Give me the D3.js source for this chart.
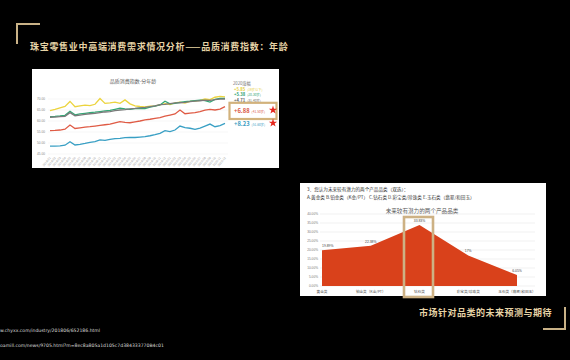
<!DOCTYPE html>
<html><head><meta charset="utf-8">
<script src="https://cdn.jsdelivr.net/npm/d3@7"></script>
<style>html,body{margin:0;padding:0;background:#000;} svg{display:block}</style>
</head><body>
<svg id="c" width="570" height="360"></svg>
<script>
// ---------- data ----------
const months = [];
for (const yr of [2018, 2019, 2020]) for (let m = 1; m <= 12; m++) months.push(yr + "-" + String(m).padStart(2, "0"));
const ageGroups = ["19岁以下", "20-30岁", "31-40岁", "41-50岁", "51-60岁"];
const growth2020 = ["+5.85", "+5.38", "+4.71", "+6.88", "+8.23"];
const yellowVals = [64.7,65.3,66.0,66.6,68.9,66.5,66.9,67.2,67.0,67.6,70.2,68.0,68.2,68.6,68.0,69.6,67.8,66.9,66.6,66.4,66.7,66.9,67.3,67.9,67.5,68.2,68.6,68.2,68.9,69.1,69.4,70.0,69.7,70.8,71.2,71.0];
const greenVals = [62.0,62.1,62.3,62.6,64.4,62.8,63.2,63.5,63.8,64.0,64.3,64.6,64.8,65.3,65.8,65.5,65.3,65.6,65.8,65.6,66.3,66.8,67.3,69.0,67.8,68.0,68.5,68.8,69.0,69.3,69.5,69.3,68.6,69.8,70.3,70.3];
const grayVals = [61.7,61.8,62.0,62.1,63.8,62.4,62.7,63.0,63.3,63.5,63.8,64.1,64.3,64.7,65.0,65.2,65.5,65.7,66.0,66.2,66.5,66.9,67.4,67.6,67.9,68.2,68.3,68.5,68.8,69.0,69.2,69.5,69.4,69.7,69.9,70.0];
const redVals = [55.6,55.7,55.9,56.3,58.2,56.6,56.9,57.2,57.4,57.7,58.0,58.3,58.6,59.2,59.7,59.4,59.2,59.6,60.0,60.5,60.8,61.2,61.5,62.2,62.7,63.2,65.0,63.3,63.6,63.8,64.3,64.9,65.3,65.0,65.4,66.5];
const blueVals = [48.6,48.6,48.7,49.0,50.6,49.1,49.4,49.8,50.3,50.6,51.4,51.2,51.6,52.0,52.1,52.4,52.6,52.5,52.7,52.9,53.3,53.8,54.4,55.6,55.2,55.9,57.7,57.0,56.7,56.2,56.8,57.7,58.6,57.4,57.9,58.9];
const yTicksLeft = [45, 50, 55, 60, 65, 70];

const categories = ["黄金类", "铂金类（K金/PT）", "钻石类", "彩宝类/珍珠类", "玉石类（翡翠/和田玉）"];
const shares = [0.1989, 0.2238, 0.3383, 0.17, 0.0605];
const shareLabels = ["19.89%", "22.38%", "33.83%", "17%", "6.05%"];
const yTicksRight = [0, 0.05, 0.10, 0.15, 0.20, 0.25, 0.30, 0.35, 0.40];

// ---------- drawing ----------
const svg = d3.select("#c");
const gold = "#c9b287", cream = "#e6d3a6";
const cjk = "'Noto Sans CJK SC','Noto Sans',sans-serif";
svg.append("rect").attr("width", 570).attr("height", 360).attr("fill", "#000");

// corner brackets
svg.append("path").attr("d", "M17,44 V24 H40").attr("fill", "none").attr("stroke", gold).attr("stroke-width", 2);
svg.append("path").attr("d", "M565,307 V329 H543").attr("fill", "none").attr("stroke", gold).attr("stroke-width", 2);

svg.append("text").attr("x", 30).attr("y", 50).attr("fill", cream)
  .style("font-family", cjk).style("font-size", "9px").style("font-weight", "700").style("letter-spacing", "0.7px")
  .text("珠宝零售业中高端消费需求情况分析——品质消费指数：年龄");

svg.append("text").attr("x", 419).attr("y", 316).attr("fill", cream)
  .style("font-family", cjk).style("font-size", "9px").style("font-weight", "700").style("letter-spacing", "0.5px")
  .text("市场针对品类的未来预测与期待");

// source urls (only the visible part, as in the reference)
svg.append("text").attr("x", 0).attr("y", 332).attr("fill", "#ddd")
  .style("font-family", "'DejaVu Sans',sans-serif").style("font-size", "4.6px")
  .text("w.chyxx.com/industry/201806/652186.html");
svg.append("text").attr("x", 0).attr("y", 347).attr("fill", "#ddd")
  .style("font-family", "'DejaVu Sans',sans-serif").style("font-size", "4.6px")
  .text("oamill.com/news/9705.html?m=8ec8a805a1d105c7d384333770B4c01");

// ---------- left chart ----------
const L = svg.append("g");
L.append("rect").attr("x", 32).attr("y", 69).attr("width", 247).attr("height", 99).attr("fill", "#fff");
L.append("text").attr("x", 133).attr("y", 83).attr("text-anchor", "middle").attr("fill", "#555")
  .style("font-family", cjk).style("font-size", "5px").text("品质消费指数-分年龄");

const xL = d3.scalePoint().domain(months).range([50, 225]);
const yL = d3.scaleLinear().domain([45, 70]).range([154, 99]);

L.selectAll(".gl").data(yTicksLeft).join("line")
  .attr("x1", 48).attr("x2", 228).attr("y1", d => yL(d)).attr("y2", d => yL(d))
  .attr("stroke", "#eee").attr("stroke-width", 0.5);
L.selectAll(".yl").data(yTicksLeft).join("text")
  .attr("x", 45).attr("y", d => yL(d) + 1).attr("text-anchor", "end").attr("fill", "#888")
  .style("font-family", "sans-serif").style("font-size", "3.2px").text(d => d.toFixed(2));
L.selectAll(".xl").data(months).join("text")
  .attr("transform", d => `translate(${xL(d) + 1},${158}) rotate(-50)`)
  .attr("text-anchor", "end").attr("fill", "#999")
  .style("font-family", "sans-serif").style("font-size", "3px").text(d => d);

const seriesL = [
  {vals: yellowVals, color: "#ecd43f"},
  {vals: greenVals, color: "#35a776"},
  {vals: grayVals, color: "#7a7a7a"},
  {vals: redVals, color: "#df5b45"},
  {vals: blueVals, color: "#389fc4"}
];
const lineL = d3.line().x((d, i) => xL(months[i])).y(d => yL(d));
seriesL.forEach(s => {
  L.append("path").attr("d", lineL(s.vals)).attr("fill", "none").attr("stroke", s.color).attr("stroke-width", 1.3);
});

// legend
L.append("text").attr("x", 233).attr("y", 84.5).attr("fill", "#777")
  .style("font-family", cjk).style("font-size", "4.2px").text("2020涨幅");
const legY = [90.6, 96.4, 102.2, 112.5, 125.5];
const legCol = ["#e6cf3a", "#2f9f6f", "#666", "#d9553f", "#3a9dc2"];
const legSize = [4.2, 4.2, 4.2, 5.8, 5.8];
growth2020.forEach((g, i) => {
  const t = L.append("text").attr("x", 234).attr("y", legY[i]).attr("fill", legCol[i]).style("font-family", cjk);
  t.append("tspan").style("font-size", legSize[i] + "px").style("font-weight", "700").text(g);
  t.append("tspan").attr("dx", 2).style("font-size", "3.2px").text("(" + ageGroups[i] + ")");
});
L.append("rect").attr("x", 229.5).attr("y", 102.8).attr("width", 47).attr("height", 16.2)
  .attr("fill", "none").attr("stroke", "#d2b27c").attr("stroke-width", 2.2);
const star = d3.symbol(d3.symbolStar).size(22);
[[273, 110], [273, 123]].forEach(p => {
  L.append("path").attr("d", star()).attr("transform", `translate(${p[0]},${p[1]})`).attr("fill", "#e5261c");
});

// ---------- right chart ----------
const R = svg.append("g");
R.append("rect").attr("x", 300).attr("y", 183).attr("width", 246).attr("height", 113).attr("fill", "#fff");
R.append("text").attr("x", 307).attr("y", 190.5).attr("fill", "#333")
  .style("font-family", cjk).style("font-size", "4.6px").text("3．您认为未来较有潜力的两个产品品类（双选）：");
R.append("text").attr("x", 307).attr("y", 199).attr("fill", "#333")
  .style("font-family", cjk).style("font-size", "4.6px")
  .text("A.黄金类  B.铂金类（K金/PT）  C.钻石类  D.彩宝类/珍珠类  E.玉石类（翡翠/和田玉）");
R.append("text").attr("x", 422).attr("y", 213).attr("text-anchor", "middle").attr("fill", "#595959")
  .style("font-family", cjk).style("font-size", "5.6px").text("未来较有潜力的两个产品品类");

const xR = d3.scalePoint().domain(categories).range([322, 517]);
const yR = d3.scaleLinear().domain([0, 0.40]).range([286, 214]);
R.selectAll(".gr").data(yTicksRight).join("line")
  .attr("x1", 320).attr("x2", 535).attr("y1", d => yR(d)).attr("y2", d => yR(d))
  .attr("stroke", "#e3e3e3").attr("stroke-width", 0.5);
R.selectAll(".yr").data(yTicksRight).join("text")
  .attr("x", 318).attr("y", d => yR(d) + 1).attr("text-anchor", "end").attr("fill", "#777")
  .style("font-family", "sans-serif").style("font-size", "3.2px").text(d => d3.format(".2%")(d));
const area = d3.area().x((d, i) => xR(categories[i])).y0(yR(0)).y1(d => yR(d));
R.append("path").attr("d", area(shares)).attr("fill", "#d9411b");
R.selectAll(".dl").data(shares).join("text")
  .attr("x", (d, i) => xR(categories[i])).attr("y", d => yR(d) - 3)
  .attr("text-anchor", (d, i) => i === 0 ? "start" : "middle").attr("fill", "#444")
  .style("font-family", "sans-serif").style("font-size", "3.4px").text((d, i) => shareLabels[i]);
R.selectAll(".cl").data(categories).join("text")
  .attr("x", d => xR(d)).attr("y", 293).attr("text-anchor", "middle").attr("fill", "#555")
  .style("font-family", cjk).style("font-size", "3.6px").text(d => d);
R.append("rect").attr("x", 404).attr("y", 217).attr("width", 29).attr("height", 80)
  .attr("fill", "none").attr("stroke", "#cdb184").attr("stroke-width", 2.6);
</script>
</body></html>
